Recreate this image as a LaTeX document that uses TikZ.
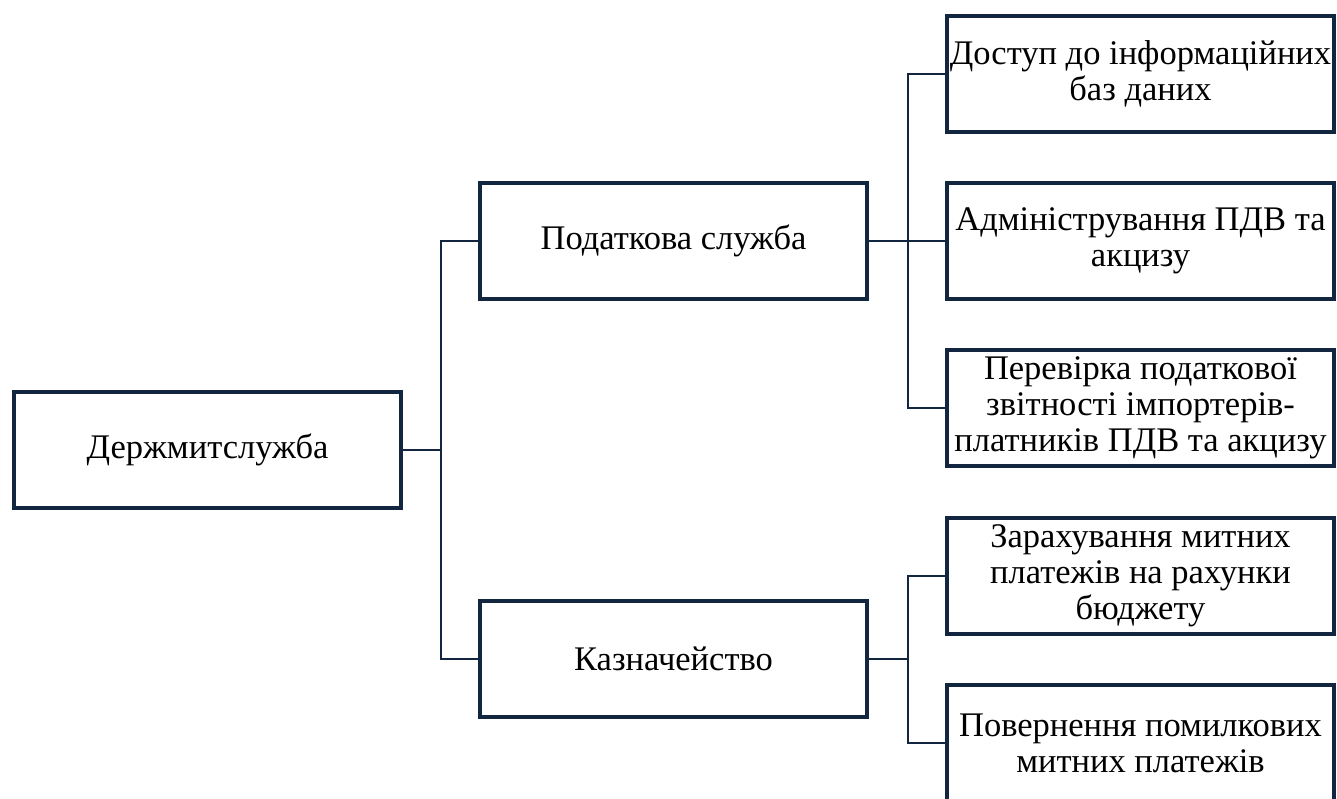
\documentclass[tikz,border=0pt]{standalone}
\usepackage{fontspec}
\setmainfont{Liberation Serif}
\definecolor{navy}{HTML}{13263F}
\begin{document}
\begin{tikzpicture}[x=1pt,y=-1pt,
  box/.style={draw=navy,line width=4pt,minimum width=387pt,minimum height=116pt,
    inner sep=0pt,align=center,font=\fontsize{34.5}{36}\selectfont,fill=white},
  conn/.style={draw=navy,line width=2.5pt,line join=miter}]
\path[use as bounding box] (0,0) rectangle (1337,798);
\clip (0,0) rectangle (1337,798);
\fill[white] (0,0) rectangle (1337,798);
% nodes
\node[box] (b1) at (207.5,450) {Держмитслужба};
\node[box] (m1) at (673.5,241) {Податкова служба};
\node[box] (m2) at (673.5,659) {Казначейство};
\node[box] (rA) at (1140.5,74) {Доступ до інформаційних\\баз даних};
\node[box] (rB) at (1140.5,241) {Адміністрування ПДВ та\\акцизу};
\node[box] (rC) at (1140.5,408) {Перевірка податкової\\звітності імпортерів-\\платників ПДВ та акцизу};
\node[box] (rD) at (1140.5,576) {Зарахування митних\\платежів на рахунки\\бюджету};
\node[box] (rE) at (1140.5,743) {Повернення помилкових\\митних платежів};
% junctions
\coordinate (tL) at (441,450);
\coordinate (tR1) at (908,241);
\coordinate (tR2) at (908,659);
% connectors
\draw[conn] (b1.east) -- (tL);
\draw[conn] (m1.west) -| (tL) |- (m2.west);
\draw[conn] (m1.east) -- (tR1);
\draw[conn] (rA.west) -| (tR1) |- (rC.west);
\draw[conn] (tR1) -- (rB.west);
\draw[conn] (m2.east) -- (tR2);
\draw[conn] (rD.west) -| (tR2) |- (rE.west);
\end{tikzpicture}
\end{document}
